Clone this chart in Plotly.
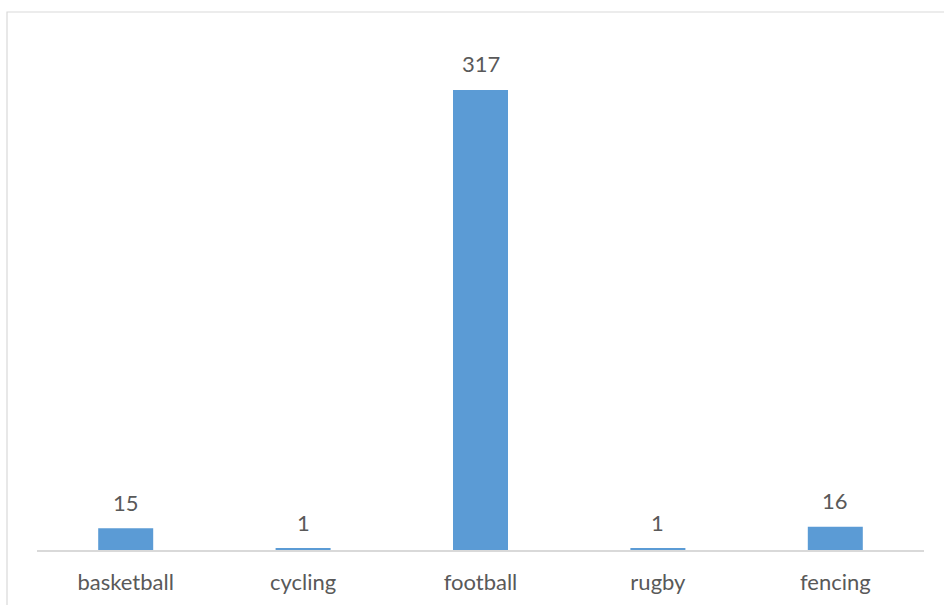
import plotly.graph_objects as go

# Counts of athletes per sport
sports = ["basketball", "cycling", "football", "rugby", "fencing"]
counts = [15, 1, 317, 1, 16]

BAR_COLOR = "#5B9BD5"
TEXT_COLOR = "#595959"
LINE_COLOR = "#D9D9D9"
FONT = "Lato, 'Open Sans', sans-serif"

fig = go.Figure(
    go.Bar(
        x=sports,
        y=counts,
        marker=dict(color=BAR_COLOR, line=dict(width=0)),
        hoverinfo="x+y",
    )
)

# Value labels above each bar
for s, v in zip(sports, counts):
    fig.add_annotation(
        x=s, y=v, text=str(v), showarrow=False,
        yanchor="middle", yshift=26,
        font=dict(family=FONT, size=22, color=TEXT_COLOR),
    )

# Chart-area frame (runs off the right and bottom of the page)
fig.add_shape(
    type="rect", xref="paper", yref="paper",
    x0=-30 / 887, x1=1.1, y0=-0.2, y1=538 / 508,
    line=dict(color=LINE_COLOR, width=1.2), fillcolor="rgba(0,0,0,0)",
    layer="below",
)

fig.update_layout(
    width=944, height=605,
    margin=dict(l=37, r=20, t=42, b=55, autoexpand=False),
    paper_bgcolor="white", plot_bgcolor="white",
    bargap=0.69,
    showlegend=False,
    font=dict(family=FONT, color=TEXT_COLOR),
    xaxis=dict(
        automargin=False,
        showline=True, linecolor=LINE_COLOR, linewidth=1.5,
        showgrid=False, zeroline=False,
        ticks="outside", ticklen=12, tickcolor="rgba(0,0,0,0)",
        tickfont=dict(family=FONT, size=22, color=TEXT_COLOR),
    ),
    yaxis=dict(
        automargin=False,
        range=[0, 350], visible=False, showgrid=False, zeroline=False,
    ),
)

fig.write_html("out.html")
